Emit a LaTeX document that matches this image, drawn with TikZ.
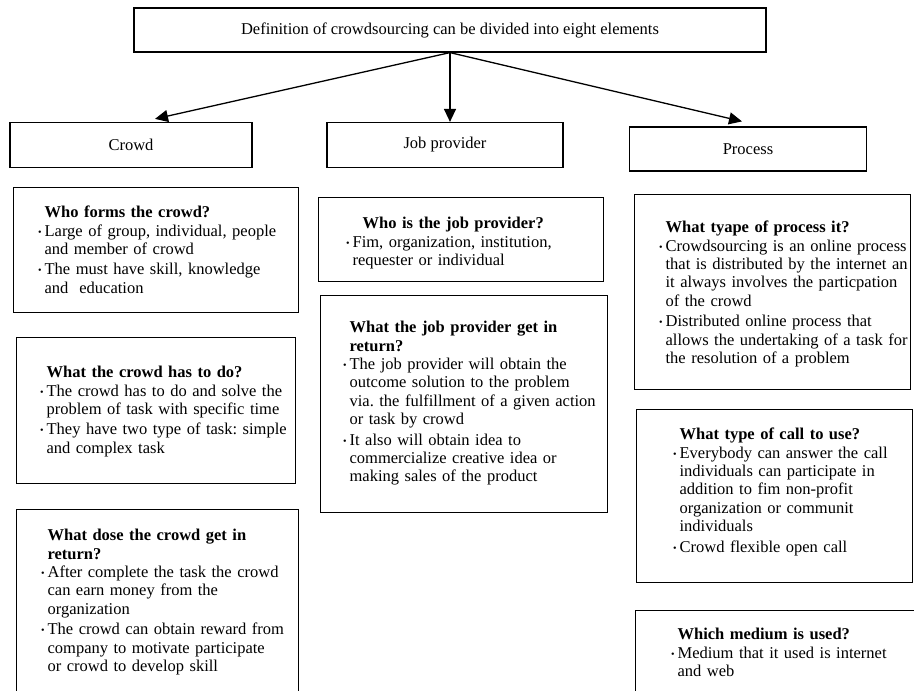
\documentclass[tikz,border=0pt]{standalone}
\usepackage{fontspec}
\setmainfont{Liberation Serif}
\usetikzlibrary{arrows.meta}
\frenchspacing

\newlength{\padl}
\newcommand{\qhead}[1]{\hspace*{\padl}\mbox{\bfseries #1}}
\newcommand{\qitem}[1]{\hspace*{\padl}\llap{\raisebox{1pt}{\fontsize{10}{10}\selectfont\textbullet}\hspace{3pt}}\mbox{#1}}
\newcommand{\qcont}[1]{\hspace*{\padl}\mbox{#1}}

\tikzset{
  headbox/.style={draw, line width=1.2pt, inner sep=0pt, minimum height=44pt,
    font=\fontsize{16.5}{18.4}\selectfont},
  infobox/.style={draw, line width=1.2pt, anchor=north west, inner sep=0pt, align=left,
    font=\fontsize{16.5}{18.4}\selectfont, execute at begin node={\setlength{\padl}{#1}}},
  infobox/.default=30pt,
  arr/.style={-{Triangle[length=13pt, width=12pt]}, line width=1.3pt},
}

\begin{document}
\begin{tikzpicture}[x=1pt, y=-1pt]
  \path[use as bounding box, fill=white] (0,0) rectangle (914,691);

  % top box and the three elements
  \node[headbox, minimum width=632pt] (def) at (450,30) {Definition of crowdsourcing can be divided into eight elements};
  \node[headbox, minimum width=242pt, minimum height=45pt] (crowd) at (131,145) {Crowd};
  \node[headbox, minimum width=236pt, minimum height=45pt] (job) at (445,145) {Job provider};
  \node[headbox, minimum width=237pt] (process) at (748,149) {Process};

  \draw[arr] (def.south) -- ([xshift=24pt, yshift=3pt]crowd.north);
  \draw[arr] (def.south) -- (def.south |- job.north);
  \draw[arr] (def.south) -- ([xshift=-6pt, yshift=5pt]process.north);

  % crowd
  \node[infobox=31pt, text width=285pt, text height=30pt, text depth=95pt] (crowd1) at (13,187) {%
    \qhead{Who forms the crowd?}\\
    \qitem{Large of group, individual, people}\\
    \qcont{and member of crowd}\\[2pt]
    \qitem{The must have skill, knowledge}\\
    \qcont{and\ \ education}};
  \node[infobox=30pt, text width=279pt, text height=40pt, text depth=106pt] (crowd2) at (16,337) {%
    \qhead{What the crowd has to do?}\\
    \qitem{The crowd has to do and solve the}\\
    \qcont{problem of task with specific time}\\[2pt]
    \qitem{They have two type of task: simple}\\
    \qcont{and complex task}};
  \node[infobox=31pt, text width=282pt, text height=31pt, text depth=300pt] (crowd3) at (16,509) {%
    \qhead{What dose the crowd get in}\\
    \qhead{return?}\\
    \qitem{After complete the task the crowd}\\
    \qcont{can earn money from the}\\
    \qcont{organization}\\[2pt]
    \qitem{The crowd can obtain reward from}\\
    \qcont{company to motivate participate}\\
    \qcont{or crowd to develop skill}};

  % job provider
  \node[infobox=34pt, text width=285pt, text height=31pt, text depth=53pt] (job1) at (318,197) {%
    \qhead{\hspace{10pt}Who is the job provider?}\\
    \qitem{Fim, organization, institution,}\\
    \qcont{requester or individual}};
  \node[infobox=29pt, text width=287pt, text height=37pt, text depth=180pt] (job2) at (320,295) {%
    \qhead{What the job provider get in}\\
    \qhead{return?}\\
    \qitem{The job provider will obtain the}\\
    \qcont{outcome solution to the problem}\\
    \qcont{via. the fulfillment of a given action}\\
    \qcont{or task by crowd}\\[2pt]
    \qitem{It also will obtain idea to}\\
    \qcont{commercialize creative idea or}\\
    \qcont{making sales of the product}};

  % process
  \node[infobox=31pt, text width=276pt, text height=38pt, text depth=157pt] (proc1) at (634,194) {%
    \qhead{What tyape of process it?}\\
    \qitem{Crowdsourcing is an online process}\\
    \qcont{that is distributed by the internet an}\\
    \qcont{it always involves the particpation}\\
    \qcont{of the crowd}\\[2pt]
    \qitem{Distributed online process that}\\
    \qcont{allows the undertaking of a task for}\\
    \qcont{the resolution of a problem}};
  \node[infobox=43pt, text width=276pt, text height=30pt, text depth=143pt] (proc2) at (636,409) {%
    \qhead{What type of call to use?}\\
    \qitem{Everybody can answer the call}\\
    \qcont{individuals can participate in}\\
    \qcont{addition to fim non-profit}\\
    \qcont{organization or communit}\\
    \qcont{individuals}\\[2pt]
    \qitem{Crowd flexible open call}};
  \node[infobox=42pt, text width=300pt, text height=29pt, text depth=200pt] (proc3) at (635,610) {%
    \qhead{Which medium is used?}\\
    \qitem{Medium that it used is internet}\\
    \qcont{and web}};
\end{tikzpicture}
\end{document}
